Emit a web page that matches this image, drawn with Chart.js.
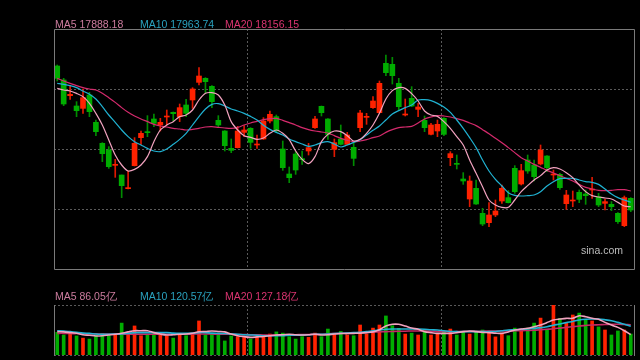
<!DOCTYPE html>
<html>
<head>
<meta charset="utf-8">
<script src="https://cdn.jsdelivr.net/npm/chart.js@4/dist/chart.umd.min.js"></script>
<style>
  body { margin: 0; background: #000; }
  #wrap { position: relative; width: 640px; height: 360px; overflow: hidden; background: #000; }
  canvas { position: absolute; left: 0; }
  .lbl { position: absolute; font: 10.5px "Liberation Sans", Arial, sans-serif; line-height: 12px; white-space: nowrap; }
</style>
</head>
<body>
<div id="wrap">
  <canvas id="kline" width="640" height="280" style="top:0"></canvas>
  <canvas id="vol" width="640" height="80" style="top:280px"></canvas>

  <div class="lbl" style="left:55px;top:18px;color:#cc7c9e">MA5 17888.18</div>
  <div class="lbl" style="left:140px;top:18px;color:#2aa2bf">MA10 17963.74</div>
  <div class="lbl" style="left:225px;top:18px;color:#db3470">MA20 18156.15</div>

  <div class="lbl" style="left:581px;top:244px;color:#bdbdbd">sina.com</div>

  <div class="lbl" style="left:55px;top:290px;color:#cc7c9e">MA5 86.05亿</div>
  <div class="lbl" style="left:140px;top:290px;color:#2aa2bf">MA10 120.57亿</div>
  <div class="lbl" style="left:225px;top:290px;color:#db3470">MA20 127.18亿</div>
</div>
<script>
// daily candles, oldest first
const open = [20281,20043,19777,19601,19561,19788,19323,18966,18853,18592,
  18428,18196,18587,19063,19159,19380,19278,19414,19493,19420,
  19618,19703,20003,20071,19935,19357,19176,18881,18893,19153,
  19221,18938,19040,19346,19420,18870,18445,18785,18700,18836,
  19233,19595,19380,18864,19040,18949,18898,19233,19408,19573,
  19488,20326,20309,19986,19448,19731,19544,19357,19119,19176,
  19391,18723,18621,18360,18020,18201,17776,17618,17748,17986,
  18043,18541,18275,18683,18598,18615,18751,18428,18439,17941,
  17986,18133,18105,18173,18060,17946,17929,17776,17567,18031];
const close = [20071,19635,19799,19522,19743,19505,19165,18791,18570,18609,
  18247,18207,18966,19136,19148,19306,19323,19431,19471,19573,
  19476,19890,20111,20015,19675,19278,18927,18847,19176,19193,
  18983,18955,19346,19459,19176,18553,18383,18513,18689,18893,
  19380,19488,19119,18978,18949,19108,18711,19482,19425,19686,
  19986,20168,20117,19590,19465,19601,19584,19233,19278,19289,
  19119,18791,18609,18326,18326,17935,17595,17748,17816,18201,
  17958,18145,18502,18496,18400,18853,18553,18445,18213,18088,
  18003,18014,18077,18190,17918,17975,17890,17635,18043,17833];
const high = [20298,20071,19947,19675,19890,19833,19363,18978,18910,18694,
  18428,18496,19063,19176,19437,19465,19391,19533,19499,19635,
  19714,19913,20253,20083,19947,19437,19182,19040,19255,19267,
  19233,19108,19403,19516,19448,19006,18564,18825,18836,18966,
  19425,19601,19386,19040,19278,19153,18966,19527,19476,19760,
  20026,20468,20428,20071,19720,19930,19646,19431,19306,19363,
  19403,18825,18768,18468,18411,18343,17861,17958,18003,18258,
  18162,18587,18609,18768,18683,18938,18757,18513,18456,18167,
  18156,18173,18173,18388,18116,18020,17975,17788,18071,18043];
const low = [20026,19607,19714,19420,19476,19420,19097,18655,18541,18388,
  18043,18190,18581,18949,19080,19250,19176,19278,19346,19335,
  19420,19561,19958,19816,19573,19233,18836,18808,18887,19080,
  18881,18881,19034,19312,19153,18507,18298,18439,18609,18768,
  19221,19431,19034,18740,18938,18938,18587,19165,19289,19561,
  19482,20117,19975,19533,19431,19590,19420,19165,19108,19080,
  19097,18587,18530,18269,17890,17929,17567,17550,17720,17946,
  17952,18116,18258,18456,18326,18598,18485,18343,18184,17844,
  17890,17958,17929,18031,17890,17833,17822,17606,17550,17805];

// moving averages as drawn on the chart
const ma5 = [19901,19873,19856,19816,19760,19646,19476,19278,19023,18768,
  18598,18496,18524,18598,18740,18995,19193,19278,19335,19420,
  19448,19533,19703,19816,19828,19788,19618,19335,19193,19097,
  19068,19034,19057,19136,19193,19136,19029,18836,18694,18621,
  18740,18995,19119,19176,19165,19097,19006,19034,19136,19278,
  19476,19720,19862,19913,19901,19811,19686,19516,19448,19425,
  19335,19221,19080,18938,18683,18456,18230,18003,17918,17878,
  17878,18003,18145,18247,18343,18417,18513,18553,18530,18468,
  18383,18258,18145,18077,18054,18037,18020,17963,17901,17888];
const ma10 = [19986,19969,19947,19913,19856,19799,19720,19590,19448,19323,
  19193,19080,18995,18938,18881,18836,18825,18870,18949,19034,
  19136,19278,19420,19550,19629,19641,19601,19550,19516,19476,
  19425,19363,19272,19204,19153,19108,19040,18995,18955,18915,
  18938,18978,18995,18955,18904,18938,18983,19029,19108,19187,
  19261,19363,19465,19522,19573,19618,19703,19709,19692,19646,
  19584,19493,19363,19221,19063,18893,18683,18496,18354,18241,
  18128,18082,18071,18077,18088,18145,18241,18315,18366,18371,
  18371,18343,18315,18303,18269,18190,18105,18043,18003,17964];
const ma20 = [20071,20026,19986,19947,19913,19890,19873,19816,19743,19663,
  19573,19493,19431,19380,19335,19289,19261,19244,19221,19210,
  19193,19204,19221,19244,19250,19238,19227,19221,19238,19278,
  19312,19340,19369,19386,19391,19357,19318,19278,19233,19199,
  19176,19159,19142,19097,19051,19017,18995,19006,19029,19063,
  19091,19153,19199,19233,19244,19255,19312,19380,19414,19437,
  19431,19414,19386,19357,19312,19267,19199,19131,19051,18978,
  18893,18808,18723,18666,18609,18558,18507,18462,18417,18371,
  18326,18269,18218,18190,18167,18162,18167,18179,18179,18156];

// turnover in 亿
const volume = [95,84,91,80,71,67,84,91,81,84,
  134,88,122,81,84,91,84,81,71,84,
  81,88,143,84,88,88,59,80,77,74,
  67,74,77,88,97,92,77,67,77,74,
  92,77,109,91,99,84,81,126,88,113,
  126,164,123,112,88,92,84,105,84,91,
  98,109,84,98,88,99,105,92,76,92,
  81,113,109,113,134,155,105,210,154,133,
  168,176,147,143,118,105,84,101,105,88];
const volMa5 = [98,97,94,91,85,83,80,81,84,87,
  91,97,102,102,102,94,88,84,85,87,
  88,91,98,99,101,99,97,88,81,77,
  74,76,78,81,84,85,87,85,84,85,
  87,84,85,88,90,90,91,92,94,97,
  106,122,129,129,122,113,108,98,94,91,
  91,91,94,98,101,98,95,94,92,91,
  97,105,109,112,119,126,136,147,151,154,
  154,165,161,154,150,137,126,116,102,86];
const volMa10 = [102,101,98,95,92,91,88,87,87,88,
  88,91,94,94,94,94,94,94,92,91,
  91,92,94,94,92,91,90,88,87,85,
  84,83,81,81,81,81,83,83,84,85,
  87,87,88,90,91,92,94,95,98,102,
  105,108,109,109,109,109,109,108,106,105,
  102,99,98,98,98,98,98,98,99,102,
  105,106,108,109,112,115,119,125,130,136,
  141,147,150,151,151,148,144,137,129,121];
const volMa20 = [91,91,90,90,90,89,89,88,88,88,
  87,87,87,87,87,87,87,87,87,87,
  88,88,88,88,88,87,87,87,86,86,
  85,85,84,84,84,84,85,85,86,86,
  87,87,89,90,91,92,93,94,95,96,
  97,98,99,100,100,101,101,101,100,99,
  99,98,98,99,99,100,100,101,101,101,
  101,102,102,103,104,106,108,110,113,116,
  119,122,124,126,127,128,129,129,128,127];

const days = close.map((c, i) => 'D' + (i + 1));

const UP = '#ff2200', DOWN = '#00ad00';
const UP_WICK = '#e01800', DOWN_WICK = '#008c00';
const isUp = close.map((c, i) => c >= open[i]);

// dotted grid + frame, drawn from the chart's own scales
const framePlugin = {
  id: 'frame',
  beforeDatasetsDraw(chart, args, opts) {
    const { ctx, chartArea: a, scales } = chart;
    ctx.save();
    ctx.strokeStyle = '#5a5a5a';
    ctx.lineWidth = 1;
    ctx.setLineDash([2, 2]);
    ctx.beginPath();
    for (let k = 1; k < opts.rows; k++) {
      const y = Math.round(a.top + (a.bottom - a.top) * k / opts.rows) + 0.5;
      ctx.moveTo(a.left, y); ctx.lineTo(a.right, y);
    }
    opts.splits.forEach(i => {
      const x = Math.round((scales.x.getPixelForValue(i - 1) + scales.x.getPixelForValue(i)) / 2) + 0.5;
      ctx.moveTo(x, a.top); ctx.lineTo(x, a.bottom);
    });
    if (opts.dottedTopBottom) {
      ctx.moveTo(a.left, a.top + 0.5); ctx.lineTo(a.right, a.top + 0.5);
      ctx.moveTo(a.left, a.bottom + 0.5); ctx.lineTo(a.right, a.bottom + 0.5);
    }
    ctx.stroke();
    ctx.restore();
  },
  afterDraw(chart, args, opts) {
    const { ctx, chartArea: a } = chart;
    ctx.save();
    ctx.strokeStyle = '#7a7a7a';
    ctx.lineWidth = 1;
    ctx.beginPath();
    if (opts.dottedTopBottom) {
      ctx.moveTo(a.left + 0.5, a.top); ctx.lineTo(a.left + 0.5, a.bottom + 1);
      ctx.moveTo(a.right + 0.5, a.top); ctx.lineTo(a.right + 0.5, a.bottom + 1);
    } else {
      ctx.rect(a.left + 0.5, a.top + 0.5, a.right - a.left, a.bottom - a.top);
    }
    ctx.stroke();
    ctx.restore();
  }
};

const maLine = (label, data, color, width) => ({
  type: 'line', label, data, borderColor: color, borderWidth: width,
  pointRadius: 0, tension: 0.3, fill: false, order: 0
});

new Chart(document.getElementById('kline'), {
  type: 'bar',
  data: {
    labels: days,
    datasets: [
      maLine('MA5', ma5, '#f2a2bf', 1.2),
      maLine('MA10', ma10, '#20b2d2', 1.2),
      maLine('MA20', ma20, '#d42a6c', 1.2),
      {
        label: 'body', data: open.map((o, i) => [o, close[i]]),
        backgroundColor: isUp.map(u => u ? UP : DOWN),
        barThickness: 5, minBarLength: 1, grouped: false, order: 1
      },
      {
        label: 'wick', data: low.map((l, i) => [l, high[i]]),
        backgroundColor: isUp.map(u => u ? UP_WICK : DOWN_WICK),
        barThickness: 1, grouped: false, order: 2
      }
    ]
  },
  options: {
    responsive: false, animation: false, devicePixelRatio: 1,
    layout: { padding: { left: 54, top: 29, right: 6, bottom: 11 } },
    plugins: {
      legend: { display: false }, tooltip: { enabled: false },
      frame: { rows: 4, splits: [30, 60], dottedTopBottom: false }
    },
    scales: {
      x: { display: false },
      y: { display: false, min: 16830, max: 20910 }
    }
  },
  plugins: [framePlugin]
});

new Chart(document.getElementById('vol'), {
  type: 'bar',
  data: {
    labels: days,
    datasets: [
      maLine('MA5', volMa5, '#f2a2bf', 1.6),
      maLine('MA10', volMa10, '#20b2d2', 1.6),
      maLine('MA20', volMa20, '#c42a64', 1.6),
      {
        label: 'volume', data: volume,
        backgroundColor: isUp.map(u => u ? UP : DOWN),
        barThickness: 3, grouped: false, order: 1
      }
    ]
  },
  options: {
    responsive: false, animation: false, devicePixelRatio: 1,
    layout: { padding: { left: 54, top: 25, right: 6, bottom: 5 } },
    plugins: {
      legend: { display: false }, tooltip: { enabled: false },
      frame: { rows: 1, splits: [30, 60], dottedTopBottom: true }
    },
    scales: {
      x: { display: false },
      y: { display: false, min: 0, max: 210 }
    }
  },
  plugins: [framePlugin]
});
</script>
</body>
</html>
